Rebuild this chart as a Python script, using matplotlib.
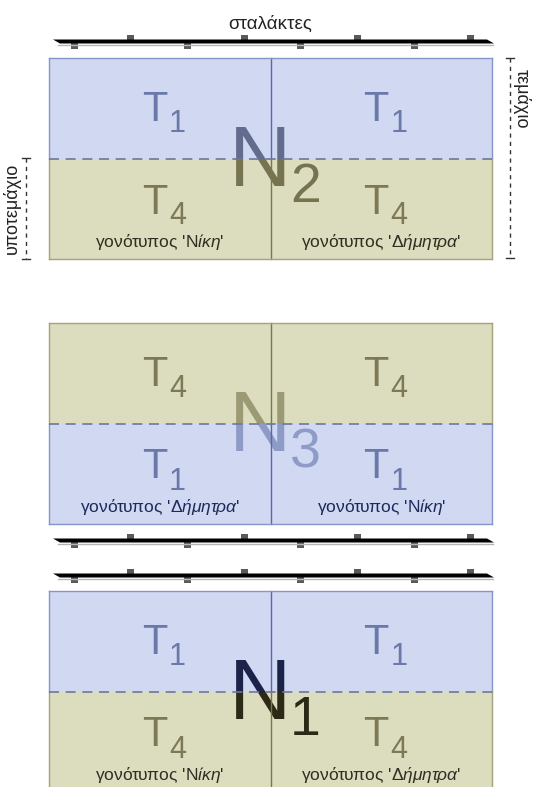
import matplotlib.pyplot as plt
from matplotlib.patches import Rectangle, Polygon

plt.rcParams['font.family'] = ['Liberation Sans', 'DejaVu Sans']
plt.rcParams['mathtext.fontset'] = 'custom'
plt.rcParams['mathtext.rm'] = 'Liberation Sans'
plt.rcParams['mathtext.it'] = 'Liberation Sans:italic'

# panels, top to bottom
n_index = ['2', '3', '1']
upper_t = ['1', '4', '1']
lower_t = ['4', '1', '4']
left_name = ['Νίκη', 'Δήμητρα', 'Νίκη']
right_name = ['Δήμητρα', 'Νίκη', 'Δήμητρα']
# colour of the big N over the upper / lower half
n_colors = [('#646c8e', '#767350'), ('#9c9a74', '#8d9bc6'), ('#1c2348', '#2c2a16')]
label_colors = ['#2e2e22', '#1d2a5a', '#2e2e22']
ruler_label = 'σταλάκτες'
part_label = 'τεμάχιο'
subpart_label = 'υποτεμάχιο'

fill = {'1': '#d0d8f2', '4': '#dcdcbe'}
tcol = {'1': '#6a79a8', '4': '#7c7954'}
edge = {'1': '#8595c8', '4': '#a3a37c'}
divc = {'1': '#5868ad', '4': '#78784c'}

W, H = 533, 787
X0, X1, XM = 49, 492, 270.5
tops = [58, 323, 591]
PH = 201
rulers = [41, 540, 575]

fig = plt.figure(figsize=(W / 100, H / 100), dpi=100)


def pixel_axes(rect, xlim, ylim):
    a = fig.add_axes(rect)
    a.set_xlim(*xlim)
    a.set_ylim(*ylim)
    a.axis('off')
    return a


ax = pixel_axes([0, 0, 1, 1], (0, W), (H, 0))

for k, top in enumerate(tops):
    mid = top + PH / 2
    bot = top + PH
    for typ, ya, yb in [(upper_t[k], top, mid), (lower_t[k], mid, bot)]:
        ax.add_patch(Rectangle((X0, ya), X1 - X0, yb - ya, fc=fill[typ], ec='none'))
        base = ya + 63 if ya == top else ya + 55
        for xc in [(X0 + XM) / 2, (XM + X1) / 2]:
            ax.text(xc - 5, base, 'T', fontsize=30, color=tcol[typ], ha='center', va='baseline')
            ax.text(xc + 9, base + 11, typ, fontsize=22, color=tcol[typ], ha='left', va='baseline')

    # big N, coloured separately over each half (clipped by a half-panel axes)
    for c, (ya, yb) in zip(n_colors[k], [(top, mid), (mid, bot)]):
        a = pixel_axes([X0 / W, 1 - yb / H, (X1 - X0) / W, (yb - ya) / H], (X0, X1), (yb, ya))
        a.text(XM - 10.5, top + 128, 'N', fontsize=62, color=c, ha='center', va='baseline', clip_on=True)
        a.text(XM + 19.5, top + 144, n_index[k], fontsize=40, color=c, ha='left', va='baseline', clip_on=True)

    for xc, name in [((X0 + XM) / 2, left_name[k]), ((XM + X1) / 2, right_name[k])]:
        ax.text(xc, bot - 12, "γονότυπος '$\\mathit{" + name + "}$'", fontsize=12.5,
                color=label_colors[k], ha='center', va='baseline')

# frame lines go over the big letters
ov = pixel_axes([0, 0, 1, 1], (0, W), (H, 0))
for k, top in enumerate(tops):
    mid = top + PH / 2
    bot = top + PH
    for typ, ya, yb in [(upper_t[k], top, mid), (lower_t[k], mid, bot)]:
        ov.plot([X0, X0], [ya, yb], color=edge[typ], lw=1)
        ov.plot([X1, X1], [ya, yb], color=edge[typ], lw=1)
        ov.plot([XM, XM], [ya, yb], color=divc[typ], lw=1)
    ov.plot([X0, X1], [top, top], color=edge[upper_t[k]], lw=1)
    ov.plot([X0, X1], [bot, bot], color=edge[lower_t[k]], lw=1)
    ov.plot([X0, X1], [mid, mid], color='#6c7898', lw=1.2, ls=(0, (6, 4)))

for ry in rulers:
    for i in range(8):
        x = 74 + i * 56.7
        y = ry + 2 if i % 2 == 0 else ry - 6.5
        ov.add_patch(Rectangle((x - 3.5, y), 7, 5.5, fc='#5a5a5a', ec='none'))
    ov.plot([58, 493], [ry + 3.5, ry + 3.5], color='#b5b5b5', lw=1)
    ov.add_patch(Polygon([(53, ry - 1.5), (487, ry - 1.5), (494, ry + 2.5), (60, ry + 2.5)],
                         closed=True, fc='black', ec='none'))

ov.text(XM, 29, ruler_label, fontsize=13.5, color='#222222', ha='center', va='baseline')

# brackets
ov.plot([510, 510], [58, 258], color='#333333', lw=1, ls=(0, (3, 3)))
ov.plot([506, 514], [58, 58], color='#333333', lw=1)
ov.plot([506, 514], [258, 258], color='#333333', lw=1)
ov.text(522, 99, part_label, fontsize=13, color='#222222', rotation=270, ha='center', va='center')

ov.plot([26, 26], [158, 259], color='#333333', lw=1, ls=(0, (3, 3)))
ov.plot([22, 30], [158, 158], color='#333333', lw=1)
ov.plot([22, 30], [259, 259], color='#333333', lw=1)
ov.text(12, 208, subpart_label, fontsize=13, color='#222222', rotation=90, ha='center', va='center')

fig.savefig('out.png', dpi=100)
